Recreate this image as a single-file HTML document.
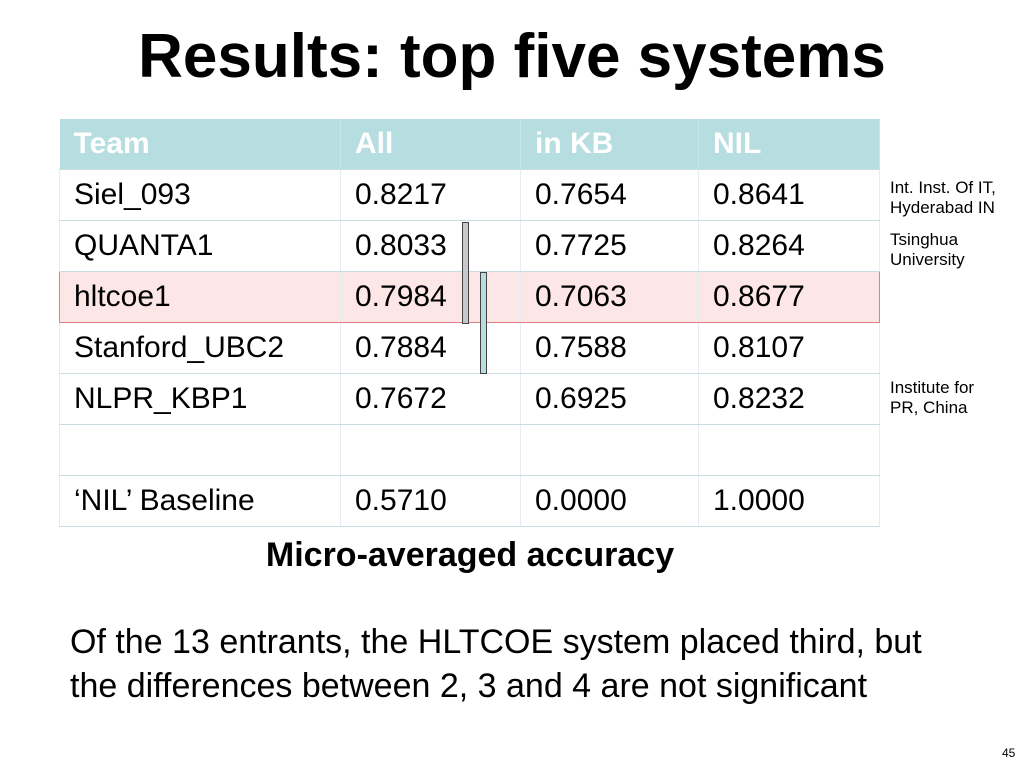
<!DOCTYPE html>
<html><head><meta charset="utf-8"><style>
body{margin:0;width:1024px;height:768px;background:#fff;font-family:"Liberation Sans",sans-serif;position:relative;overflow:hidden}
.abs{position:absolute}
h1{position:absolute;left:0;width:1024px;top:22px;margin:0;text-align:center;font-size:62px;line-height:70px;font-weight:bold;color:#000}
table{position:absolute;left:59px;top:119px;border-collapse:collapse;width:820px;font-size:30px;table-layout:fixed}
td,th{height:50px;padding:0 0 0 14px;text-align:left;border-bottom:1px solid #c9dde2;border-right:1px solid #e3eef0;white-space:nowrap}
th{background:#b6dde0;color:#fff;font-weight:bold;font-size:30px;border-right:1px solid #c8e6e8}
tr.hl td{background:#fde6e6;border-top:1px solid #e07f85;border-bottom:1px solid #e07f85}
tr.hl td:first-child{border-left:1px solid #e07f85}
tr.hl td:last-child{border-right:1px solid #e07f85}
td:first-child{border-left:1px solid #e3eef0}
.note{position:absolute;left:890px;font-size:17px;line-height:20px;color:#000;white-space:nowrap}
</style></head><body>
<h1>Results: top five systems</h1>
<table>
<colgroup><col style="width:281px"><col style="width:180px"><col style="width:178px"><col style="width:181px"></colgroup>
<tr><th>Team</th><th>All</th><th>in KB</th><th>NIL</th></tr>
<tr><td>Siel_093</td><td>0.8217</td><td>0.7654</td><td>0.8641</td></tr>
<tr><td>QUANTA1</td><td>0.8033</td><td>0.7725</td><td>0.8264</td></tr>
<tr class="hl"><td>hltcoe1</td><td>0.7984</td><td>0.7063</td><td>0.8677</td></tr>
<tr><td>Stanford_UBC2</td><td>0.7884</td><td>0.7588</td><td>0.8107</td></tr>
<tr><td>NLPR_KBP1</td><td>0.7672</td><td>0.6925</td><td>0.8232</td></tr>
<tr><td></td><td></td><td></td><td></td></tr>
<tr><td>‘NIL’ Baseline</td><td>0.5710</td><td>0.0000</td><td>1.0000</td></tr>
</table>
<div class="abs" style="left:462px;top:222px;width:5px;height:100px;background:#c8c8cc;border:1px solid #444"></div>
<div class="abs" style="left:480px;top:272px;width:5px;height:100px;background:#b6dde0;border:1px solid #444"></div>
<div class="note" style="top:178px">Int. Inst. Of IT,<br>Hyderabad IN</div>
<div class="note" style="top:230px">Tsinghua<br>University</div>
<div class="note" style="top:378px">Institute for<br>PR, China</div>
<div class="abs" style="left:0;width:940px;text-align:center;top:535px;font-size:34px;line-height:40px;font-weight:bold;white-space:nowrap">Micro-averaged accuracy</div>
<div class="abs" style="left:70px;top:620px;font-size:34px;line-height:44px;white-space:nowrap">Of the 13 entrants, the HLTCOE system placed third, but<br>the differences between 2, 3 and 4 are not significant</div>
<div class="abs" style="left:1002px;top:746px;font-size:12px">45</div>
</body></html>
